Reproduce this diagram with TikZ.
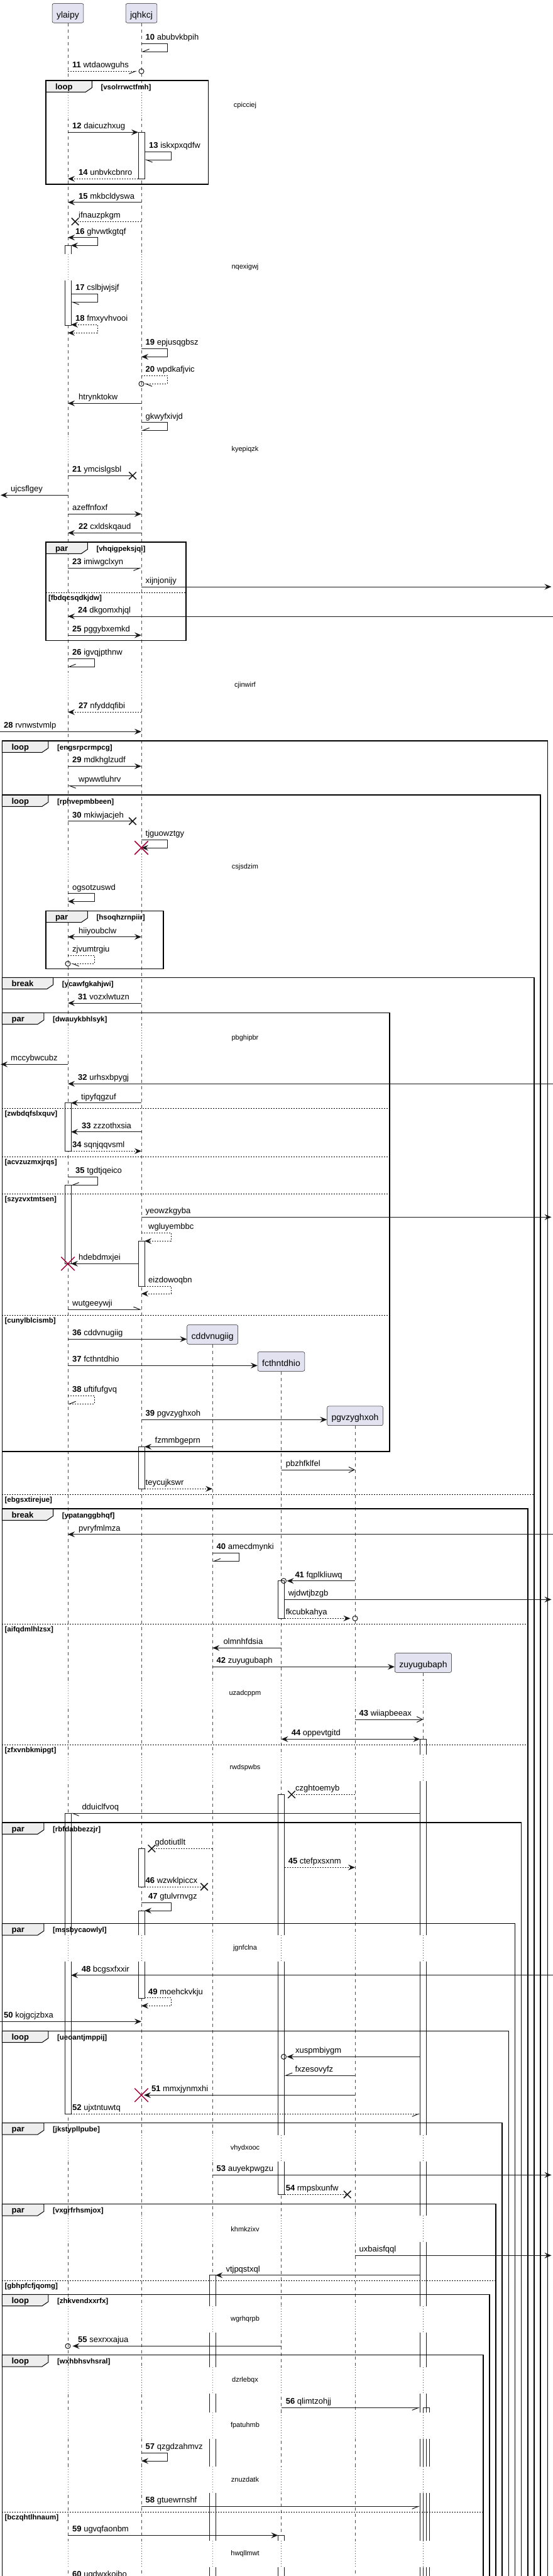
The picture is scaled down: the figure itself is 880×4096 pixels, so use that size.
\documentclass[tikz,border=0pt]{standalone}
\usepackage{fontspec}
\setmainfont{Liberation Sans}
\usetikzlibrary{arrows.meta,shapes.misc}
\definecolor{partfill}{HTML}{E2E2F0}
\definecolor{lineblack}{HTML}{181818}
\definecolor{tabfill}{HTML}{EEEEEE}
\definecolor{killred}{HTML}{A80036}
\begin{document}
\begin{tikzpicture}[x=1pt, y=-1pt,
    part/.style={draw=lineblack, fill=partfill, line width=0.5pt, rounded corners=2.5pt, inner xsep=7pt, inner ysep=4pt, text height=18.5pt, text depth=4.2pt, font=\fontsize{14}{16}\selectfont},
    lifeline/.style={draw=black!70, line width=0.5pt, dash pattern=on 5pt off 5pt},
    dotline/.style={line width=0.8pt, dash pattern=on 1pt off 3pt},
    actbox/.style={draw=lineblack, fill=white, line width=1pt},
    actline/.style={draw=lineblack, line width=1pt},
    msg/.style={draw=lineblack, line width=1pt},
    retmsg/.style={msg, dash pattern=on 2pt off 2pt},
    headfull/.style={-{Stealth[length=11pt, width=9pt, inset=4pt]}},
    headboth/.style={>={Stealth[length=11pt, width=9pt, inset=4pt]}, <->},
    headbarb/.style={-{Straight Barb[length=9pt, width=9pt]}},
    headhalf/.style={-{Straight Barb[harpoon, length=10pt, width=8pt]}},
    headhalfsw/.style={-{Straight Barb[harpoon, swap, length=10pt, width=8pt]}},
    endring/.style={circle, draw=lineblack, line width=1pt, minimum size=8pt, inner sep=0pt},
    lostx/.style={cross out, draw=lineblack, line width=1.5pt, minimum size=10pt, inner sep=0pt},
    killx/.style={cross out, draw=killred, line width=1.5pt, minimum size=20pt, inner sep=0pt},
    lbl/.style={anchor=base west, inner sep=0pt, font=\fontsize{13}{15}\selectfont},
    dly/.style={inner sep=0pt, font=\fontsize{11}{13}\selectfont},
    grpframe/.style={draw=black, line width=1.5pt},
    grptab/.style={draw=black, fill=tabfill, line width=1pt},
    grphead/.style={anchor=base west, inner sep=0pt, font=\bfseries\fontsize{13}{15}\selectfont},
    grpcond/.style={anchor=base west, inner sep=0pt, font=\bfseries\fontsize{11.5}{13}\selectfont},
    elseline/.style={draw=black, line width=1pt, dash pattern=on 2pt off 2pt}
]
\fill[white] (0,0) rectangle (880,4096);
\useasboundingbox (0,0) rectangle (880,4096);

% Participants
\node[part, anchor=north] (ylaipy) at (108,5.3) {ylaipy};
\node[part, anchor=north] (jqhkcj) at (225,5.3) {jqhkcj};
\node[part, anchor=north] (cddvnugiig) at (338.2,2106.3) {cddvnugiig};
\node[part, anchor=north] (fcthntdhio) at (447.5,2149.3) {fcthntdhio};
\node[part, anchor=north] (pgvzyghxoh) at (565,2235.7) {pgvzyghxoh};
\node[part, anchor=north] (zuyugubaph) at (673.4,2628.3) {zuyugubaph};
\coordinate (leftrim) at (0,0);
\coordinate (rightrim) at (880,0);

% Lifelines
\foreach \p in {ylaipy, jqhkcj, cddvnugiig, fcthntdhio, pgvzyghxoh, zuyugubaph}
  \draw[lifeline] (\p.south) -- (\p |- 0,4100);

% Delays
\foreach \ys/\txt in {147/cpicciej, 404/nqexigwj, 694/kyepiqzk, 1069/cjinwirf, 1358/csjsdzim, 1630/pbghipbr} {
  \foreach \p/\col in {ylaipy/black!55, jqhkcj/killred} {
    \draw[white, line width=2pt] (\p |- 0,\ys) -- (\p |- 0,\ys+41.5);
    \draw[\col, dotline] (\p |- 0,\ys) -- (\p |- 0,\ys+41.5);
  }
  \node[dly] (delay\ys) at (390,\ys+21) {\txt};
}
\foreach \ys/\txt in {2672/uzadcppm, 2790/rwdspwbs, 3077/jgnfclna, 3395/vhydxooc, 3523/khmkzixv, 3667/wgrhqrpb, 3764/dzrlebqx, 3836/fpatuhmb, 3922/znuzdatk, 4040/hwqllmwt} {
  \foreach \p/\col in {ylaipy/black!55, jqhkcj/killred, cddvnugiig/black!55, fcthntdhio/killred, pgvzyghxoh/killred, zuyugubaph/killred} {
    \draw[white, line width=2pt] (\p |- 0,\ys) -- (\p |- 0,\ys+41.5);
    \draw[\col, dotline] (\p |- 0,\ys) -- (\p |- 0,\ys+41.5);
  }
  \node[dly] (delay\ys) at (390,\ys+21) {\txt};
}

% Activations
\draw[actbox] (220,210.3) rectangle (230,284.3);
\filldraw[actbox] (103,404) -- (103,390.3) -- (113,390.3) -- (113,404);
\filldraw[actbox] (103,445.5) -- (103,517.3) -- (113,517.3) -- (113,445.5);
\draw[actbox] (103,1753.7) rectangle (113,1830.3);
\draw[actbox] (103,1884.3) rectangle (113,2009.3);
\draw[actbox] (220,1973.3) rectangle (230,2045.3);
\draw[actbox] (220,2300.3) rectangle (230,2367.3);
\draw[actbox] (442.5,2513.7) rectangle (452.5,2573.3);
\filldraw[actbox] (668.4,2790) -- (668.4,2765.3) -- (678.4,2765.3) -- (678.4,2790);
\foreach \a/\b in {2831.5/3077, 3118.5/3395, 3436.5/3523, 3564.5/3667, 3708.5/3764, 3805.5/3836, 3877.5/3922, 3963.5/4040, 4081.5/4100} {
  \fill[white] (668.4,\a) rectangle (678.4,\b);
  \draw[actline] (668.4,\a) -- (668.4,\b) (678.4,\a) -- (678.4,\b);
}
\draw[actline] (673.4,3836) -- (673.4,3828.3) -- (683.4,3828.3) -- (683.4,3836);
\foreach \a/\b in {3877.5/3922, 3963.5/4040, 4081.5/4100}
  \draw[actline] (673.4,\a) -- (673.4,\b) (683.4,\a) -- (683.4,\b);
\filldraw[actbox] (442.5,3077) -- (442.5,2853.3) -- (452.5,2853.3) -- (452.5,3077);
\fill[white] (442.5,3118.5) rectangle (452.5,3395);
\draw[actline] (442.5,3118.5) -- (442.5,3395) (452.5,3118.5) -- (452.5,3395);
\filldraw[actbox] (442.5,3436.5) -- (442.5,3489.3) -- (452.5,3489.3) -- (452.5,3436.5);
\filldraw[actbox] (103,3077) -- (103,2883.3) -- (113,2883.3) -- (113,3077);
\filldraw[actbox] (103,3118.5) -- (103,3361.3) -- (113,3361.3) -- (113,3118.5);
\draw[actbox] (220,2939.3) rectangle (230,3000);
\filldraw[actbox] (220,3077) -- (220,3038) -- (230,3038) -- (230,3077);
\filldraw[actbox] (220,3118.5) -- (220,3177.3) -- (230,3177.3) -- (230,3118.5);
\filldraw[actbox] (333.2,3667) -- (333.2,3617.7) -- (343.2,3617.7) -- (343.2,3667);
\foreach \a/\b in {3708.5/3764, 3805.5/3836, 3877.5/3922, 3963.5/4040, 4081.5/4100} {
  \fill[white] (333.2,\a) rectangle (343.2,\b);
  \draw[actline] (333.2,\a) -- (333.2,\b) (343.2,\a) -- (343.2,\b);
}
\filldraw[actbox] (442.5,4040) -- (442.5,4031.3) -- (452.5,4031.3) -- (452.5,4040);
\fill[white] (442.5,4081.5) rectangle (452.5,4100);
\draw[actline] (442.5,4081.5) -- (442.5,4100) (452.5,4081.5) -- (452.5,4100);

% Groups
\foreach \xl/\yt/\xr/\yb/\kind/\tw/\cond [count=\i] in {
    72.8/128/331.7/293/loop/73.5/vsolrrwctfmh,
    72.8/862/296/1018.3/par/66.5/vhqigpeksjqi,
    3.4/1178/871.5/4100/loop/73.5/engsrpcrmpcg,
    3.4/1264/860/4100/loop/73.5/rphvepmbbeen,
    72.8/1448.3/260/1540.3/par/66.5/hsoqhzrnpiir,
    3.4/1554.3/850/4100/break/81.2/ycawfgkahjwi,
    3.4/1610.3/620/2308/par/66.5/dwauykbhlsyk,
    3.4/2399/840/4100/break/81.2/ypatanggbhqf,
    3.4/2898/829.7/4100/par/66.5/rbfdabbezzjr,
    3.4/3058.7/819.5/4100/par/66.5/mssbycaowlyl,
    3.4/3229.3/809.4/4100/loop/73.5/ueoantjmppij,
    3.4/3375.7/799.2/4100/par/66.5/jkstypllpube,
    3.4/3504.7/789/4100/par/66.5/vxgrfrhsmjox,
    3.4/3648.3/779/4100/loop/73.5/zhkvendxxrfx,
    3.4/3744.7/768.8/4100/loop/73.5/wxhbhsvhsral} {
  \filldraw[grptab] (\xl,\yt) -- ++(\tw,0) -- ++(0,11.5) -- ++(-10,6.8) -- (\xl,\yt+18.3) -- cycle;
  \draw[grpframe] (\xl,\yt) rectangle (\xr,\yb);
  \node[grphead] (hd\i) at (\xl+15,\yt+14) {\kind};
  \node[grpcond] (cd\i) at (\xl+\tw+14,\yt+14) {[\cond]};
}
\foreach \y/\xl/\xr/\cond [count=\i] in {942/72.8/296/fbdqcsqdkjdw, 1762/3.4/620/zwbdqfslxquv, 1839.3/3.4/620/acvzuzmxjrqs, 1898.3/3.4/620/szyzvxtmtsen, 2091/3.4/620/cunylblcismb, 2376/3.4/850/ebgsxtirejue, 2582.3/3.4/840/aifqdmlhlzsx, 2774.3/3.4/840/zfxvnbkmipgt, 3626.3/3.4/789/gbhpfcfjqomg, 3994/3.4/768.8/bczqhtlhnaum} {
  \draw[elseline] (\xl,\y) -- (\xr,\y);
  \node[grpcond] (el\i) at (\xl+4,\y+12) {[\cond]};
}

% Messages 10 to 22
\draw[msg, headhalfsw] (jqhkcj |- 0,69.3) -- (266,69.3) -- (266,82) -- (jqhkcj |- 0,82);
\node[lbl] (m10) at (231.5,63.8) {\textbf{10} abubvkbpih};
\draw[retmsg, headhalfsw, shorten >=7pt] (ylaipy |- 0,113.3) -- (jqhkcj |- 0,113.3);
\node[endring] (o11) at (jqhkcj |- 0,113.3) {};
\node[lbl] (m11) at (115,107.8) {\textbf{11} wtdaowguhs};
\draw[msg, headfull, shorten >=5pt] (ylaipy |- 0,210.3) -- (jqhkcj |- 0,210.3);
\node[lbl] (m12) at (115,204.8) {\textbf{12} daicuzhxug};
\draw[msg, headhalf, shorten <=5pt, shorten >=5pt] (jqhkcj |- 0,241.3) -- (272,241.3) -- (272,254) -- (jqhkcj |- 0,254);
\node[lbl] (m13) at (237,235.8) {\textbf{13} iskxpxqdfw};
\draw[retmsg, headfull, shorten <=5pt] (jqhkcj |- 0,284.3) -- (ylaipy |- 0,284.3);
\node[lbl] (m14) at (125,278.8) {\textbf{14} unbvkcbnro};
\draw[msg, headfull] (jqhkcj |- 0,321.7) -- (ylaipy |- 0,321.7);
\node[lbl] (m15) at (125,316.2) {\textbf{15} mkbcldyswa};
\draw[retmsg, shorten >=16pt] (jqhkcj |- 0,352.3) -- (ylaipy |- 0,352.3);
\node[lostx, xshift=11.6pt] (x1) at (ylaipy |- 0,352.3) {};
\node[lbl] (t1) at (125,346.8) {ifnauzpkgm};
\draw[msg, headboth, shorten >=5pt] (ylaipy |- 0,377.7) -- (155,377.7) -- (155,390.3) -- (ylaipy |- 0,390.3);
\node[lbl] (m16) at (120,372.2) {\textbf{16} ghvwtkgtqf};
\draw[msg, headhalf, shorten <=5pt, shorten >=5pt] (ylaipy |- 0,467.3) -- (155,467.3) -- (155,480.3) -- (ylaipy |- 0,480.3);
\node[lbl] (m17) at (120,461.8) {\textbf{17} cslbjwjsjf};
\draw[retmsg, headboth, shorten <=5pt] (ylaipy |- 0,516.3) -- (155,516.3) -- (155,529.3) -- (ylaipy |- 0,529.3);
\node[lbl] (m18) at (120,510.8) {\textbf{18} fmxyvhvooi};
\draw[msg, headfull] (jqhkcj |- 0,554.3) -- (266,554.3) -- (266,567.3) -- (jqhkcj |- 0,567.3);
\node[lbl] (m19) at (231.5,548.8) {\textbf{19} epjusqgbsz};
\draw[retmsg, headhalf, shorten >=4.5pt] (jqhkcj |- 0,597.3) -- (266,597.3) -- (266,610.3) -- (jqhkcj |- 0,610.3);
\node[endring] (o20) at (jqhkcj |- 0,610.3) {};
\node[lbl] (m20) at (231.5,591.8) {\textbf{20} wpdkafjvic};
\draw[msg, headfull] (jqhkcj |- 0,641.3) -- (ylaipy |- 0,641.3);
\node[lbl] (t2) at (125,635.8) {htrynktokw};
\draw[msg, headhalfsw] (jqhkcj |- 0,671.7) -- (266,671.7) -- (266,684.3) -- (jqhkcj |- 0,684.3);
\node[lbl] (t3) at (231.5,666.2) {gkwyfxivjd};
\draw[msg, shorten >=14pt] (ylaipy |- 0,756.3) -- (jqhkcj |- 0,756.3);
\node[lostx, xshift=-14pt] (x2) at (jqhkcj |- 0,756.3) {};
\node[lbl] (m21) at (115,750.8) {\textbf{21} ymcislgsbl};
\draw[msg, headfull, shorten >=1pt] (ylaipy |- 0,787.3) -- (leftrim |- 0,787.3);
\node[lbl] (t4) at (17,781.8) {ujcsflgey};
\draw[msg, headfull] (ylaipy |- 0,817.3) -- (jqhkcj |- 0,817.3);
\node[lbl] (t5) at (115,811.8) {azeffnfoxf};
\draw[msg, headfull] (jqhkcj |- 0,847.3) -- (ylaipy |- 0,847.3);
\node[lbl] (m22) at (125,841.8) {\textbf{22} cxldskqaud};

% Messages 23 to 35
\draw[msg, headhalfsw] (ylaipy |- 0,903.3) -- (jqhkcj |- 0,903.3);
\node[lbl] (m23) at (115,897.8) {\textbf{23} imiwgclxyn};
\draw[msg, headfull, shorten >=2.5pt] (jqhkcj |- 0,933) -- (rightrim |- 0,933);
\node[lbl] (t6) at (231.5,927.5) {xijnjonijy};
\draw[msg, headfull] (rightrim |- 0,980) -- (ylaipy |- 0,980);
\node[lbl] (m24) at (124,974.5) {\textbf{24} dkgomxhjql};
\draw[msg, headfull] (ylaipy |- 0,1010) -- (jqhkcj |- 0,1010);
\node[lbl] (m25) at (115,1004.5) {\textbf{25} pggybxemkd};
\draw[msg, headhalfsw] (ylaipy |- 0,1047.3) -- (150,1047.3) -- (150,1060) -- (ylaipy |- 0,1060);
\node[lbl] (m26) at (115,1041.8) {\textbf{26} igvqjpthnw};
\draw[retmsg, headfull] (jqhkcj |- 0,1132.3) -- (ylaipy |- 0,1132.3);
\node[lbl] (m27) at (125,1126.8) {\textbf{27} nfyddqfibi};
\draw[msg, headfull] (leftrim |- 0,1163.3) -- (jqhkcj |- 0,1163.3);
\node[lbl] (m28) at (6,1157.8) {\textbf{28} rvnwstvmlp};
\draw[msg, headfull] (ylaipy |- 0,1218.3) -- (jqhkcj |- 0,1218.3);
\node[lbl] (m29) at (115,1212.8) {\textbf{29} mdkhglzudf};
\draw[msg, headhalf] (jqhkcj |- 0,1249.3) -- (ylaipy |- 0,1249.3);
\node[lbl] (t7) at (125,1243.8) {wpwwtluhrv};
\draw[msg, shorten >=14pt] (ylaipy |- 0,1305.7) -- (jqhkcj |- 0,1305.7);
\node[lostx, xshift=-14pt] (x3) at (jqhkcj |- 0,1305.7) {};
\node[lbl] (m30) at (115,1300.2) {\textbf{30} mkiwjacjeh};
\draw[msg, headfull] (jqhkcj |- 0,1335.3) -- (266,1335.3) -- (266,1348) -- (jqhkcj |- 0,1348);
\node[killx] (k1) at (jqhkcj |- 0,1348) {};
\node[lbl] (t8) at (231.5,1329.8) {tjguowztgy};
\draw[msg, headfull] (ylaipy |- 0,1420.7) -- (150,1420.7) -- (150,1433.3) -- (ylaipy |- 0,1433.3);
\node[lbl] (t9) at (115,1415.2) {ogsotzuswd};
\draw[msg, headboth] (ylaipy |- 0,1489.7) -- (jqhkcj |- 0,1489.7);
\node[lbl] (t10) at (125,1484.2) {hiiyoubclw};
\draw[retmsg, headhalf, shorten >=5pt] (ylaipy |- 0,1519.3) -- (150,1519.3) -- (150,1532.3) -- (ylaipy |- 0,1532.3);
\node[endring] (o1) at (ylaipy |- 0,1532.3) {};
\node[lbl] (t11) at (115,1513.8) {zjvumtrgiu};
\draw[msg, headfull] (jqhkcj |- 0,1595) -- (ylaipy |- 0,1595);
\node[lbl] (m31) at (124,1589.5) {\textbf{31} vozxlwtuzn};
\draw[msg, headfull, shorten >=1pt] (ylaipy |- 0,1692.3) -- (leftrim |- 0,1692.3);
\node[lbl] (t12) at (17,1686.8) {mccybwcubz};
\draw[msg, headfull] (rightrim |- 0,1723.3) -- (ylaipy |- 0,1723.3);
\node[lbl] (m32) at (124,1717.8) {\textbf{32} urhsxbpygj};
\draw[msg, headfull, shorten >=5pt] (jqhkcj |- 0,1753.7) -- (ylaipy |- 0,1753.7);
\node[lbl] (t13) at (129,1748.2) {tipyfqgzuf};
\draw[msg, headfull, shorten >=5pt] (jqhkcj |- 0,1799.7) -- (ylaipy |- 0,1799.7);
\node[lbl] (m33) at (130,1794.2) {\textbf{33} zzzothxsia};
\draw[retmsg, headfull, shorten <=5pt] (ylaipy |- 0,1830.3) -- (jqhkcj |- 0,1830.3);
\node[lbl] (m34) at (115,1824.8) {\textbf{34} sqnjqqvsml};
\draw[msg, headhalfsw, shorten >=5pt] (ylaipy |- 0,1871.3) -- (155,1871.3) -- (155,1884.3) -- (ylaipy |- 0,1884.3);
\node[lbl] (m35) at (120,1865.8) {\textbf{35} tgdtjqeico};

% Messages 36 to 47
\draw[msg, headfull, shorten >=2.5pt] (jqhkcj |- 0,1935.3) -- (rightrim |- 0,1935.3);
\node[lbl] (t14) at (231.5,1929.8) {yeowzkgyba};
\draw[retmsg, headfull, shorten >=5pt] (jqhkcj |- 0,1960.3) -- (272,1960.3) -- (272,1973.3) -- (jqhkcj |- 0,1973.3);
\node[lbl] (t15) at (236,1954.8) {wgluyembbc};
\draw[msg, headfull, shorten <=5pt, shorten >=5pt] (jqhkcj |- 0,2009.3) -- (ylaipy |- 0,2009.3);
\node[killx] (k2) at (ylaipy |- 0,2009.3) {};
\node[lbl] (t16) at (125,2003.8) {hdebdmxjei};
\draw[retmsg, headfull, shorten <=5pt] (jqhkcj |- 0,2045.3) -- (272,2045.3) -- (272,2057) -- (jqhkcj |- 0,2057);
\node[lbl] (t17) at (236,2039.8) {eizdowoqbn};
\draw[msg, headhalf] (ylaipy |- 0,2082) -- (jqhkcj |- 0,2082);
\node[lbl] (t18) at (115,2076.5) {wutgeeywji};
\draw[msg, headfull] (ylaipy |- 0,2129.3) -- (cddvnugiig.west |- 0,2129.3);
\node[lbl] (m36) at (115,2123.8) {\textbf{36} cddvnugiig};
\draw[msg, headfull] (ylaipy |- 0,2171.3) -- (fcthntdhio.west |- 0,2171.3);
\node[lbl] (m37) at (115,2165.8) {\textbf{37} fcthntdhio};
\draw[retmsg, headhalfsw] (ylaipy |- 0,2219.3) -- (150,2219.3) -- (150,2232.3) -- (ylaipy |- 0,2232.3);
\node[lbl] (m38) at (115,2213.8) {\textbf{38} uftifufgvq};
\draw[msg, headfull] (jqhkcj |- 0,2257.3) -- (pgvzyghxoh.west |- 0,2257.3);
\node[lbl] (m39) at (231.5,2251.8) {\textbf{39} pgvzyghxoh};
\draw[msg, headfull, shorten >=5pt] (cddvnugiig |- 0,2300.3) -- (jqhkcj |- 0,2300.3);
\node[lbl] (t19) at (246.5,2294.8) {fzmmbgeprn};
\draw[msg, headbarb] (fcthntdhio |- 0,2337) -- (pgvzyghxoh |- 0,2337);
\node[lbl] (t20) at (454.6,2331.5) {pbzhfklfel};
\draw[retmsg, headfull, shorten <=5pt] (jqhkcj |- 0,2367.3) -- (cddvnugiig |- 0,2367.3);
\node[lbl] (t21) at (231.5,2361.8) {teycujkswr};
\draw[msg, headfull] (rightrim |- 0,2439.7) -- (ylaipy |- 0,2439.7);
\node[lbl] (t22) at (125,2434.2) {pvryfmlmza};
\draw[msg, headhalfsw] (cddvnugiig |- 0,2469.3) -- (380,2469.3) -- (380,2482.3) -- (cddvnugiig |- 0,2482.3);
\node[lbl] (m40) at (344.5,2463.8) {\textbf{40} amecdmynki};
\draw[msg, headfull, shorten >=9pt] (pgvzyghxoh |- 0,2513.7) -- (fcthntdhio |- 0,2513.7);
\node[endring, xshift=4pt] (o2) at (fcthntdhio |- 0,2513.7) {};
\node[lbl] (m41) at (469.3,2508.2) {\textbf{41} fqplkliuwq};
\draw[msg, headfull, shorten <=5pt, shorten >=2.5pt] (fcthntdhio |- 0,2543.3) -- (rightrim |- 0,2543.3);
\node[lbl] (t23) at (458.6,2537.8) {wjdwtjbzgb};
\draw[retmsg, headfull, shorten <=5pt, shorten >=7.5pt] (fcthntdhio |- 0,2573.3) -- (pgvzyghxoh |- 0,2573.3);
\node[endring] (o3) at (pgvzyghxoh |- 0,2573.3) {};
\node[lbl] (t24) at (454.6,2567.8) {fkcubkahya};
\draw[msg, headfull] (fcthntdhio |- 0,2620.3) -- (cddvnugiig |- 0,2620.3);
\node[lbl] (t25) at (355.3,2614.8) {olmnhfdsia};
\draw[msg, headfull] (cddvnugiig |- 0,2650.3) -- (zuyugubaph.west |- 0,2650.3);
\node[lbl] (m42) at (344.5,2644.8) {\textbf{42} zuyugubaph};
\draw[msg, headbarb] (pgvzyghxoh |- 0,2734) -- (zuyugubaph |- 0,2734);
\node[lbl] (m43) at (571.5,2728.5) {\textbf{43} wiiapbeeax};
\draw[msg, headboth, shorten >=5pt] (fcthntdhio |- 0,2765.3) -- (zuyugubaph |- 0,2765.3);
\node[lbl] (m44) at (463.6,2759.8) {\textbf{44} oppevtgitd};
\draw[retmsg, shorten >=20pt] (pgvzyghxoh |- 0,2853.3) -- (fcthntdhio |- 0,2853.3);
\node[lostx, xshift=16.5pt] (x4) at (fcthntdhio |- 0,2853.3) {};
\node[lbl] (t26) at (470,2847.8) {czghtoemyb};
\draw[msg, headhalf, shorten <=5pt, shorten >=5pt] (zuyugubaph |- 0,2883.3) -- (ylaipy |- 0,2883.3);
\node[lbl] (t27) at (130.3,2877.8) {dduiclfvoq};
\draw[retmsg, shorten >=20pt] (cddvnugiig |- 0,2939.3) -- (jqhkcj |- 0,2939.3);
\node[lostx, xshift=16.4pt] (x5) at (jqhkcj |- 0,2939.3) {};
\node[lbl] (t28) at (246.5,2933.8) {gdotiutllt};
\draw[retmsg, headfull, shorten <=5pt] (fcthntdhio |- 0,2969.3) -- (pgvzyghxoh |- 0,2969.3);
\node[lbl] (m45) at (458.6,2963.8) {\textbf{45} ctefpxsxnm};
\draw[retmsg, shorten <=5pt, shorten >=13pt] (jqhkcj |- 0,3000) -- (cddvnugiig |- 0,3000);
\node[lostx, xshift=-13.2pt] (x6) at (cddvnugiig |- 0,3000) {};
\node[lbl] (m46) at (231.5,2994.5) {\textbf{46} wzwklpiccx};
\draw[msg, headfull, shorten >=5pt] (jqhkcj |- 0,3025.3) -- (272,3025.3) -- (272,3038) -- (jqhkcj |- 0,3038);
\node[lbl] (m47) at (236,3019.8) {\textbf{47} gtulvrnvgz};

% Messages 48 to 60
\draw[msg, headfull, shorten >=5pt] (rightrim |- 0,3140.7) -- (ylaipy |- 0,3140.7);
\node[lbl] (m48) at (129.7,3135.2) {\textbf{48} bcgsxfxxir};
\draw[retmsg, headfull, shorten <=5pt] (jqhkcj |- 0,3176.7) -- (272,3176.7) -- (272,3189.3) -- (jqhkcj |- 0,3189.3);
\node[lbl] (m49) at (236,3171.2) {\textbf{49} moehckvkju};
\draw[msg, headfull] (leftrim |- 0,3214.3) -- (jqhkcj |- 0,3214.3);
\node[lbl] (m50) at (6,3208.8) {\textbf{50} kojgcjzbxa};
\draw[msg, headfull, shorten <=5pt, shorten >=9pt] (zuyugubaph |- 0,3270.3) -- (fcthntdhio |- 0,3270.3);
\node[endring, xshift=4pt] (o4) at (fcthntdhio |- 0,3270.3) {};
\node[lbl] (t29) at (470,3264.8) {xuspmbiygm};
\draw[msg, headhalfsw, shorten >=5pt] (pgvzyghxoh |- 0,3300) -- (fcthntdhio |- 0,3300);
\node[lbl] (t30) at (469.3,3294.5) {fxzesovyfz};
\draw[msg, headfull, shorten >=4pt] (pgvzyghxoh |- 0,3331.3) -- (jqhkcj |- 0,3331.3);
\node[killx] (k3) at (jqhkcj |- 0,3331.3) {};
\node[lbl] (m51) at (240.8,3325.8) {\textbf{51} mmxjynmxhi};
\draw[retmsg, headhalfsw, shorten <=5pt, shorten >=5pt] (ylaipy |- 0,3361.3) -- (zuyugubaph |- 0,3361.3);
\node[lbl] (m52) at (115,3355.8) {\textbf{52} ujxtntuwtq};
\draw[msg, headfull, shorten >=2.5pt] (cddvnugiig |- 0,3458.3) -- (rightrim |- 0,3458.3);
\node[lbl] (m53) at (344.5,3452.8) {\textbf{53} auyekpwgzu};
\draw[retmsg, shorten <=5pt, shorten >=12pt] (fcthntdhio |- 0,3489.3) -- (pgvzyghxoh |- 0,3489.3);
\node[lostx, xshift=-12.3pt] (x7) at (pgvzyghxoh |- 0,3489.3) {};
\node[lbl] (m54) at (454.6,3483.8) {\textbf{54} rmpslxunfw};
\draw[msg, headfull, shorten >=2.5pt] (pgvzyghxoh |- 0,3586.3) -- (rightrim |- 0,3586.3);
\node[lbl] (t31) at (571.5,3580.8) {uxbaisfqql};
\draw[msg, headfull, shorten <=5pt, shorten >=5pt] (zuyugubaph |- 0,3617.7) -- (cddvnugiig |- 0,3617.7);
\node[lbl] (t32) at (359.3,3612.2) {vtjpqstxql};
\draw[msg, headfull, shorten >=7.5pt] (fcthntdhio |- 0,3730.3) -- (ylaipy |- 0,3730.3);
\node[endring] (o5) at (ylaipy |- 0,3730.3) {};
\node[lbl] (m55) at (124,3724.8) {\textbf{55} sexrxxajua};
\draw[msg, headhalfsw, shorten >=5pt] (fcthntdhio |- 0,3828.3) -- (zuyugubaph |- 0,3828.3);
\node[lbl] (m56) at (454.6,3822.8) {\textbf{56} qlimtzohjj};
\draw[msg, headfull] (jqhkcj |- 0,3900.3) -- (266,3900.3) -- (266,3913) -- (jqhkcj |- 0,3913);
\node[lbl] (m57) at (231.5,3894.8) {\textbf{57} qzgdzahmvz};
\draw[msg, headhalfsw, shorten >=5pt] (jqhkcj |- 0,3985.3) -- (zuyugubaph |- 0,3985.3);
\node[lbl] (m58) at (231.5,3979.8) {\textbf{58} gtuewrnshf};
\draw[msg, headfull, shorten >=5pt] (ylaipy |- 0,4031.3) -- (fcthntdhio |- 0,4031.3);
\node[lbl] (m59) at (115,4025.8) {\textbf{59} ugvqfaonbm};
\node[lbl] (m60) at (115,4097) {\textbf{60} ugdwxkoibo};

\end{tikzpicture}
\end{document}
